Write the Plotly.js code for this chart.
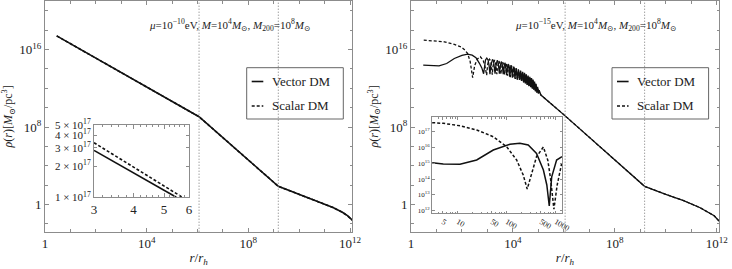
<!DOCTYPE html>
<html><head><meta charset="utf-8">
<script src="https://cdn.plot.ly/plotly-3.0.1.min.js"></script>
<style>html,body{margin:0;padding:0;background:#fff}#chart{width:732px;height:269px}</style>
</head><body><div id="chart"></div>
<script>
// ---------- data (log10 values) ----------
const leftLogR         = [0.46, 6.06, 9.18, 10.0, 10.7, 11.33, 11.7, 11.9, 12.09];
const leftVectorLogRho = [17.4, 9.06, 1.88, 1.05, 0.4, -0.3, -0.8, -1.15, -1.6];
const leftScalarLogRho = [17.4, 9.06, 1.88, 1.05, 0.4, -0.3, -0.8, -1.15, -1.6];

const leftInsetVectorR   = [3, 4, 5, 5.47];
const leftInsetVectorRho = [2.84e17, 1.72e17, 1.17e17, 1.0e17];
const leftInsetScalarR   = [3, 4, 5, 5.72];
const leftInsetScalarRho = [3.37e17, 1.96e17, 1.29e17, 1.0e17];

// right panel, [log10 r, log10 rho]
const rightVectorPoints = [
  [0.48,14.38],[0.8,14.32],[1.1,14.3],[1.4,14.55],[1.7,15.07],[2.0,15.38],[2.22,15.51],[2.4,15.42],[2.55,15.15],[2.68,14.6],[2.78,14.1],
  [2.85,13.5],[2.8875,14.41],[2.925,14.92],[2.975,15.1],[3.025,14.92],[3.0625,14.41],
  [3.1,13.45],[3.13,14.3],[3.16,14.8],[3.2,14.98],[3.24,14.8],[3.27,14.3],
  [3.3,13.5],[3.325,14.2],[3.35,14.7],[3.385,14.88],[3.42,14.7],[3.445,14.2],
  [3.47,13.5],[3.49,14.1],[3.515,14.57],[3.545,14.75],[3.575,14.57],[3.6,14.1],
  [3.62,13.45],[3.64,14.0],[3.66,14.44],[3.685,14.62],[3.71,14.44],[3.73,14.0],
  [3.75,13.35],[3.768,13.85],[3.786,14.32],[3.81,14.5],[3.834,14.32],[3.852,13.85],
  [3.87,13.2],[3.887,13.75],[3.903,14.2],[3.925,14.38],[3.947,14.2],[3.963,13.75],
  [3.98,13.1],[3.995,13.6],[4.01,14.05],[4.03,14.22],[4.05,14.05],[4.065,13.6],
  [4.08,13.0],[4.125,14.08],[4.17,12.9],[4.215,13.95],[4.26,12.85],[4.3,13.83],[4.34,12.75],[4.38,13.7],[4.42,12.6],
  [4.455,13.58],[4.49,12.5],[4.525,13.45],[4.56,12.35],[4.595,13.32],[4.63,12.2],[4.665,13.18],[4.7,12.1],[4.73,13.05],
  [4.76,12.0],[4.79,12.9],[4.82,11.9],[4.85,12.7],[4.88,11.75],[4.91,12.45],[4.94,11.6],[4.97,12.15],[5.0,11.45],[5.03,11.8],
  [5.1,11.3],[6.05,9.15],[9.17,1.88],[10.0,1.05],[10.7,0.4],[11.33,-0.3],[11.7,-0.8],[11.9,-1.15],[12.09,-1.7]
];
const rightScalarPoints = [
  [0.5,16.96],[1.0,16.88],[1.31,16.79],[1.7,16.52],[1.96,16.27],[2.1,15.98],[2.22,15.59],[2.32,14.8],[2.42,13.1],
  [2.5,14.35],[2.6,15.0],[2.72,15.25],[2.83,14.9],[2.9,14.3],
  [2.97,13.35],[3.003,14.3],[3.036,14.82],[3.08,15.0],[3.124,14.82],[3.157,14.3],
  [3.19,13.4],[3.217,14.23],[3.244,14.74],[3.28,14.92],[3.316,14.74],[3.343,14.23],
  [3.37,13.45],[3.394,14.1],[3.418,14.62],[3.45,14.8],[3.482,14.62],[3.506,14.1],
  [3.53,13.45],[3.551,14.0],[3.572,14.5],[3.6,14.68],[3.628,14.5],[3.649,14.0],
  [3.67,13.4],[3.688,13.87],[3.706,14.38],[3.73,14.56],[3.754,14.38],[3.772,13.87],
  [3.79,13.3],[3.806,13.75],[3.823,14.26],[3.845,14.44],[3.867,14.26],[3.884,13.75],
  [3.9,13.15],[3.95,14.3],[4.0,13.05],[4.0475,14.15],[4.095,12.95],[4.1375,14.02],[4.18,12.88],[4.2225,13.9],
  [4.265,12.8],[4.305,13.77],[4.345,12.68],[4.385,13.64],[4.425,12.55],[4.46,13.52],[4.495,12.42],[4.53,13.38],
  [4.565,12.28],[4.6,13.25],[4.635,12.15],[4.67,13.12],[4.705,12.05],[4.735,12.98],[4.765,11.95],[4.795,12.8],
  [4.825,11.82],[4.855,12.58],[4.885,11.68],[4.915,12.3],[4.945,11.52],[4.972,11.95],
  [5.1,11.3],[6.05,9.15],[9.17,1.88],[10.0,1.05],[10.7,0.4],[11.33,-0.3],[11.7,-0.8],[11.9,-1.15],[12.09,-1.7]
];

const rightInsetVectorLogR   = [0.48,0.706,1.047,1.388,1.727,2.067,2.27,2.44,2.61,2.75,2.82,2.87,2.92,3.02,3.13];
const rightInsetVectorLogRho = [15.04,14.96,14.94,15.21,15.84,16.2,16.27,16.16,15.63,14.58,13.63,12.3,14.15,15.21,15.42];
const rightInsetScalarLogR   = [0.48,0.706,1.05,1.388,1.727,2.0,2.204,2.339,2.42,2.51,2.61,2.75,2.84,2.9,2.965,3.03,3.13];
const rightInsetScalarLogRho = [17.57,17.53,17.37,17.11,16.68,16.05,15.21,14.26,13.37,14.39,15.42,16.03,15.2,13.95,12.1,13.6,15.1];

const leftTransitionR  = [1.15e6, 1.51e9];
const rightTransitionR = [1.12e6, 1.48e9];

const mainXTicks = [1, 1e4, 1e8, 1e12];
const mainXText  = ['1', '10<sup>4</sup>', '10<sup>8</sup>', '10<sup>12</sup>'];
const mainYTicks = [1, 1e8, 1e16];
const mainYText  = ['1', '10<sup>8</sup>', '10<sup>16</sup>'];
const leftInsetXTicks = [3, 4, 5, 6];
const leftInsetYTicks = [1e17, 2e17, 3e17, 4e17, 5e17];
const leftInsetYText  = ['1 × 10<sup>17</sup>', '2 × 10<sup>17</sup>', '3 × 10<sup>17</sup>', '4 × 10<sup>17</sup>', '5 × 10<sup>17</sup>'];
const rightInsetXTicks = [5, 10, 50, 100, 500, 1000];
const rightInsetYTicks = [1e12, 1e13, 1e14, 1e15, 1e16, 1e17];
const rightInsetYText  = ['10<sup>12</sup>', '10<sup>13</sup>', '10<sup>14</sup>', '10<sup>15</sup>', '10<sup>16</sup>', '10<sup>17</sup>'];
const seriesNames = ['Vector DM', 'Scalar DM'];

// ---------- helpers ----------
const p10 = a => a.map(v => Math.pow(10, v));
const col = (pts, i) => pts.map(p => Math.pow(10, p[i]));
const W = 732, H = 269;
const px = v => v / W, py = v => 1 - v / H;
const SERIF = '"Liberation Serif", "DejaVu Serif", serif';
const FRAME = '#8c8c8c';
const INK = '#222';

function axis(extra) {
  return Object.assign({
    type: 'log', showline: true, linecolor: FRAME, linewidth: 1, mirror: 'allticks',
    ticks: 'inside', ticklen: 4, tickcolor: FRAME, tickwidth: 1,
    showgrid: false, zeroline: false, tickmode: 'array',
    tickfont: {family: SERIF, size: 13, color: INK}, fixedrange: true
  }, extra);
}
const solid  = {color: '#111', width: 1.6};
const dashed = {color: '#111', width: 1.6, dash: '3px,2px'};
const thinSolid  = {color: '#111', width: 1.3};
const thinDashed = {color: '#111', width: 1.3, dash: '3px,2px'};

const traces = [
  {x: p10(leftLogR), y: p10(leftScalarLogRho), xaxis: 'x', yaxis: 'y', mode: 'lines', line: dashed, name: seriesNames[1], showlegend: false},
  {x: p10(leftLogR), y: p10(leftVectorLogRho), xaxis: 'x', yaxis: 'y', mode: 'lines', line: solid, name: seriesNames[0], showlegend: false},
  {x: leftInsetScalarR, y: leftInsetScalarRho, xaxis: 'x2', yaxis: 'y2', mode: 'lines', line: dashed, name: seriesNames[1], showlegend: false},
  {x: leftInsetVectorR, y: leftInsetVectorRho, xaxis: 'x2', yaxis: 'y2', mode: 'lines', line: solid, name: seriesNames[0], showlegend: false},
  {x: col(rightScalarPoints, 0), y: col(rightScalarPoints, 1), xaxis: 'x3', yaxis: 'y3', mode: 'lines', line: thinDashed, name: seriesNames[1], showlegend: false},
  {x: col(rightVectorPoints, 0), y: col(rightVectorPoints, 1), xaxis: 'x3', yaxis: 'y3', mode: 'lines', line: thinSolid, name: seriesNames[0], showlegend: false},
  {x: p10(rightInsetScalarLogR), y: p10(rightInsetScalarLogRho), xaxis: 'x4', yaxis: 'y4', mode: 'lines', line: {color:'#111', width:1.5, dash:'3px,2px'}, name: seriesNames[1], showlegend: false},
  {x: p10(rightInsetVectorLogR), y: p10(rightInsetVectorLogRho), xaxis: 'x4', yaxis: 'y4', mode: 'lines', line: {color:'#111', width:1.5}, name: seriesNames[0], showlegend: false}
];

const decadeMinor = [10,100,1000,1e5,1e6,1e7,1e9,1e10,1e11];
const yMinor = [1e-2,1e2,1e4,1e6,1e10,1e12,1e14,1e18,1e20];
const xTitle = {text: '<i>r</i>/<i>r</i><sub><i>h</i></sub>', font: {family: SERIF, size: 13, color: INK}, standoff: 2};
const yTitle = {text: '<i>ρ</i>(<i>r</i>)[<i>M</i><sub>⊙</sub>/pc<sup>3</sup>]', font: {family: SERIF, size: 12, color: INK}, standoff: 4};

const layout = {
  width: W, height: H, margin: {l: 0, r: 0, t: 0, b: 0},
  paper_bgcolor: '#fff', plot_bgcolor: '#fff', showlegend: false,
  xaxis: axis({domain: [px(45), px(352.3)], anchor: 'y', range: [0, 12.09], tickvals: mainXTicks, ticktext: mainXText,
    minor: {tickmode: 'array', tickvals: decadeMinor, ticks: 'inside', ticklen: 2.5, tickcolor: FRAME}, title: xTitle}),
  yaxis: axis({domain: [py(231.7), py(1)], anchor: 'x', range: [-2.8, 21], tickvals: mainYTicks, ticktext: mainYText,
    minor: {tickmode: 'array', tickvals: yMinor, ticks: 'inside', ticklen: 2.5, tickcolor: FRAME}, title: yTitle}),
  xaxis2: axis({domain: [px(94), px(189)], anchor: 'y2', range: [Math.log10(3), Math.log10(6)], tickvals: leftInsetXTicks,
    minor: {tickmode: 'array', tickvals: [3.2,3.4,3.6,3.8,4.2,4.4,4.6,4.8,5.2,5.4,5.6,5.8], ticks: 'inside', ticklen: 2, tickcolor: FRAME},
    tickfont: {family: SERIF, size: 13, color: INK}}),
  yaxis2: axis({domain: [py(197.3), py(125)], anchor: 'x2', range: [17, Math.log10(5e17)], tickvals: leftInsetYTicks, ticktext: leftInsetYText,
    tickfont: {family: SERIF, size: 11, color: INK}, ticklen: 3}),
  xaxis3: axis({domain: [px(411), px(719)], anchor: 'y3', range: [0, 12.09], tickvals: mainXTicks, ticktext: mainXText,
    minor: {tickmode: 'array', tickvals: decadeMinor, ticks: 'inside', ticklen: 2.5, tickcolor: FRAME}, title: xTitle}),
  yaxis3: axis({domain: [py(231.7), py(1)], anchor: 'x3', range: [-2.8, 21], tickvals: mainYTicks, ticktext: mainYText,
    minor: {tickmode: 'array', tickvals: yMinor, ticks: 'inside', ticklen: 2.5, tickcolor: FRAME}, title: yTitle}),
  xaxis4: axis({domain: [px(432), px(562)], anchor: 'y4', range: [0.476, 3.13], tickvals: rightInsetXTicks,
    minor: {tickmode: 'array', tickvals: [4,6,7,8,9,20,30,40,60,70,80,90,200,300,400,600,700,800,900], ticks: 'inside', ticklen: 1.5, tickcolor: FRAME},
    tickfont: {family: SERIF, size: 8, color: INK}, ticklen: 2.5}),
  yaxis4: axis({domain: [py(213.3), py(117.3)], anchor: 'x4', range: [11.84, 17.91], tickvals: rightInsetYTicks, ticktext: rightInsetYText,
    tickfont: {family: SERIF, size: 7, color: INK}, ticklen: 2.5}),
  shapes: [],
  annotations: []
};

// dotted vertical transition lines
const dotLine = {color: '#777', width: 1, dash: '1px,2px'};
leftTransitionR.forEach(r => layout.shapes.push({type: 'line', xref: 'x', yref: 'y domain', x0: r, x1: r, y0: 0, y1: 1, line: dotLine}));
rightTransitionR.forEach(r => layout.shapes.push({type: 'line', xref: 'x3', yref: 'y3 domain', x0: r, x1: r, y0: 0, y1: 1, line: dotLine}));

// boxed legends, as in the original figure
function legendBox(x0) {
  layout.shapes.push({type: 'rect', xref: 'paper', yref: 'paper', x0: px(x0), x1: px(x0 + 96.6), y0: py(119), y1: py(67.7), line: {color: '#666', width: 1}});
  layout.shapes.push({type: 'line', xref: 'paper', yref: 'paper', x0: px(x0 + 5), x1: px(x0 + 16.6), y0: py(81.5), y1: py(81.5), line: solid});
  layout.shapes.push({type: 'line', xref: 'paper', yref: 'paper', x0: px(x0 + 5), x1: px(x0 + 16.6), y0: py(106), y1: py(106), line: {color: '#111', width: 1.4, dash: '3px,2px'}});
  [[seriesNames[0], 81.5], [seriesNames[1], 106]].forEach(([t, y]) => layout.annotations.push({
    text: t, xref: 'paper', yref: 'paper', x: px(x0 + 23), y: py(y), xanchor: 'left', yanchor: 'middle', showarrow: false,
    font: {family: SERIF, size: 13, color: INK}}));
}
legendBox(246.7);
legendBox(612);

// parameter labels
const paramText = e => '<i>μ</i>=10<sup>−' + e + '</sup>eV, <i>M</i>=10<sup>4</sup><i>M</i><sub>⊙</sub>, <i>M</i><sub>200</sub>=10<sup>8</sup><i>M</i><sub>⊙</sub>';
layout.annotations.push({text: paramText(10), xref: 'paper', yref: 'paper', x: px(229.5), y: py(25), xanchor: 'center', yanchor: 'middle', showarrow: false, font: {family: SERIF, size: 11, color: INK}});
layout.annotations.push({text: paramText(15), xref: 'paper', yref: 'paper', x: px(595), y: py(25), xanchor: 'center', yanchor: 'middle', showarrow: false, font: {family: SERIF, size: 11, color: INK}});

Plotly.newPlot('chart', traces, layout, {staticPlot: true, displayModeBar: false});
</script></body></html>
